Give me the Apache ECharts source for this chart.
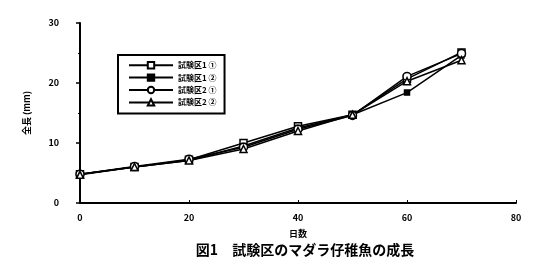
<!DOCTYPE html>
<html><head><meta charset="utf-8">
<script src="https://cdn.jsdelivr.net/npm/echarts@6/dist/echarts.min.js"></script>
<style>html,body{margin:0;padding:0;background:#fff}#c{width:550px;height:278px}</style>
</head><body><div id="c"></div>
<script>
const days = [0, 10, 20, 30, 40, 50, 60, 70];
const seriesNames = ['試験区1 ①', '試験区1 ②', '試験区2 ①', '試験区2 ②'];
const s1 = [4.8, 6.0, 7.2, 10.0, 12.8, 14.7, 20.7, 25.1];
const s2 = [4.8, 6.0, 7.1, 9.5, 12.5, 14.7, 18.4, 24.6];
const s3 = [4.8, 6.1, 7.3, 9.3, 12.3, 14.6, 21.1, 24.9];
const s4 = [4.7, 6.0, 7.1, 9.0, 12.0, 14.7, 20.3, 23.8];
const xTicks = [0, 20, 40, 60, 80];
const yTicks = [0, 10, 20, 30];

const chart = echarts.init(document.getElementById('c'));
const font = '"Noto Sans CJK JP", sans-serif';
const symbols = ['rect', 'rect', 'circle', 'triangle'];
const fills = ['#fff', '#000', '#fff', '#fff'];
const sizes = [7, 5, 8, 7];
const all = [s1, s2, s3, s4];
chart.setOption({
  animation: false,
  backgroundColor: '#fff',
  grid: { left: 80, right: 34, top: 23, bottom: 75 },
  title: {
    text: '図1　試験区のマダラ仔稚魚の成長',
    left: 300, top: 238, textAlign: 'center',
    textStyle: { fontFamily: font, fontSize: 14, fontWeight: 'bold', color: '#000' }
  },
  legend: {
    left: 118, top: 55, width: 132, orient: 'vertical',
    itemGap: 4, itemWidth: 44, itemHeight: 8,
    padding: [6, 8, 7, 10],
    borderColor: '#000', borderWidth: 2,
    textStyle: { fontFamily: font, fontSize: 8, fontWeight: 'bold', color: '#000' },
    data: seriesNames
  },
  xAxis: {
    type: 'value', min: 0, max: 80, interval: 20, offset: 6,
    name: '日数', nameLocation: 'middle', nameGap: 20,
    nameTextStyle: { fontFamily: font, fontSize: 9, fontWeight: 'bold', color: '#000' },
    axisLine: { lineStyle: { color: '#000', width: 2 } },
    axisTick: { inside: true, length: 3, lineStyle: { color: '#000' } },
    axisLabel: { fontFamily: font, fontSize: 9, fontWeight: 'bold', color: '#000', margin: 4,
      formatter: v => xTicks.includes(v) ? String(v) : '' },
    splitLine: { show: false }
  },
  yAxis: {
    type: 'value', min: 0, max: 30, interval: 10, offset: 13,
    name: '全長 (mm)', nameLocation: 'middle', nameGap: 36, nameRotate: 90,
    nameTextStyle: { fontFamily: font, fontSize: 9, fontWeight: 'bold', color: '#000' },
    axisLine: { show: true, lineStyle: { color: '#000', width: 2 } },
    axisTick: { length: 4, lineStyle: { color: '#000', width: 1.5 } },
    minorTick: { show: true, splitNumber: 2, length: 2, lineStyle: { color: '#000' } },
    axisLabel: { fontFamily: font, fontSize: 9, fontWeight: 'bold', color: '#000', margin: 8,
      formatter: v => yTicks.includes(v) ? String(v) : '' },
    splitLine: { show: false }
  },
  series: all.map((arr, i) => ({
    name: seriesNames[i], type: 'line',
    data: days.map((d, j) => [d, arr[j]]),
    symbol: symbols[i], symbolSize: sizes[i],
    lineStyle: { color: '#000', width: 1.5 },
    itemStyle: { color: fills[i], borderColor: '#000', borderWidth: 1.5 },
    emphasis: { disabled: true }
  }))
});
</script></body></html>
